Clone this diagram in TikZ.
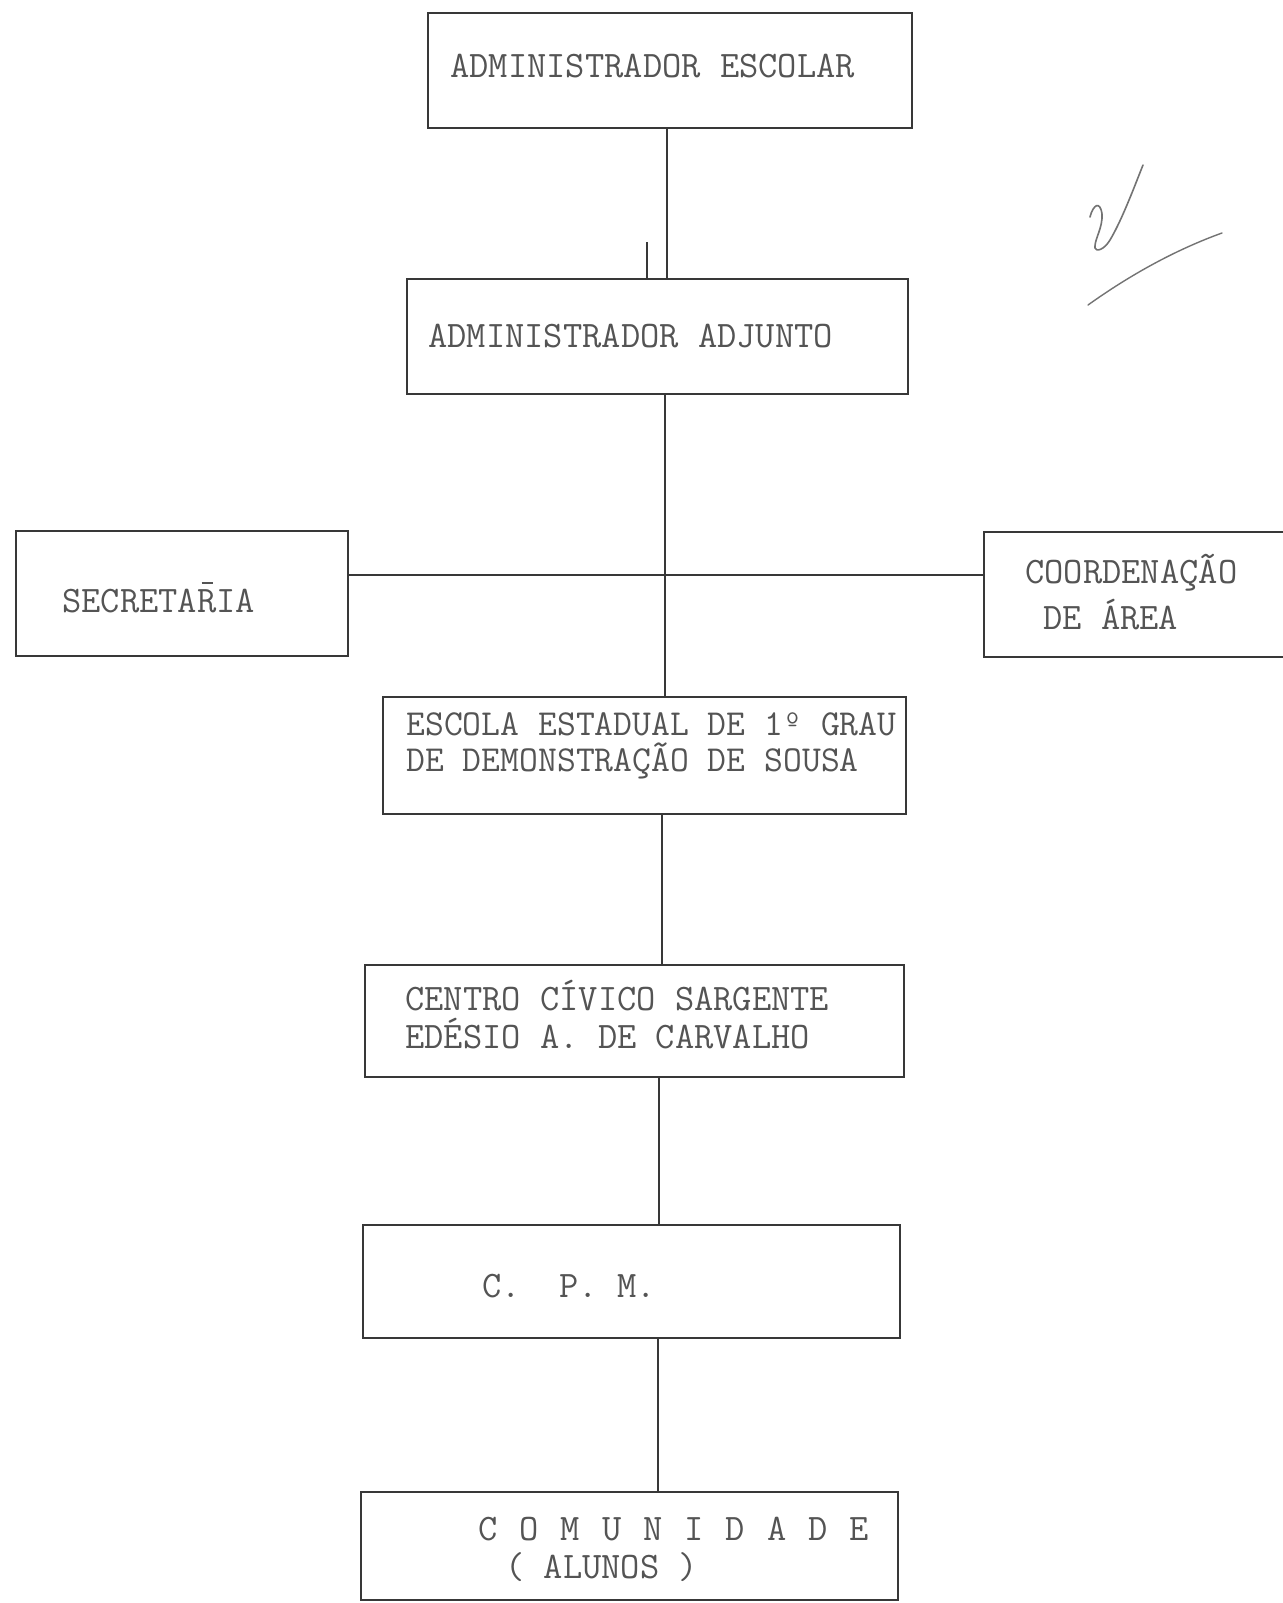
\documentclass[tikz,border=0pt]{standalone}
\usepackage{fontspec}
\usetikzlibrary{fit}
\definecolor{ink}{gray}{0.22}
\definecolor{typeink}{gray}{0.33}
\definecolor{pencil}{gray}{0.45}
\begin{document}
\begin{tikzpicture}[x=0.5pt,y=-0.5pt,
  box/.style={draw=ink, line width=1pt, inner sep=0pt},
  conn/.style={draw=ink, line width=1pt},
  lbl/.style={anchor=base west, inner sep=0pt, text=typeink,
    font=\ttfamily\fontsize{18.7}{21}\selectfont},
  lblnarrow/.style={lbl, font=\ttfamily\fontsize{18.3}{21}\selectfont}]
\useasboundingbox[fill=white] (0,0) rectangle (1282,1603);
% boxes
\node[box, fit={(428,13) (912,128)}] (b1) {};
\node[box, fit={(407,279) (908,394)}] (b2) {};
\node[box, fit={(16,531) (348,656)}] (b3) {};
\node[box, fit={(984,532) (1310,657)}] (b4) {};
\node[box, fit={(383,697) (906,814)}] (b5) {};
\node[box, fit={(365,965) (904,1077)}] (b6) {};
\node[box, fit={(363,1225) (900,1338)}] (b7) {};
\node[box, fit={(361,1492) (898,1600)}] (b8) {};
% texts
\node[lbl] (t1) at (450,77) {ADMINISTRADOR ESCOLAR};
\node[lbl] (t2) at (428,347) {ADMINISTRADOR ADJUNTO};
\node[lbl] (t3) at (62,612) {SECRETA\rlap{\raisebox{0.74em}{\kern0.12em\rule{0.3em}{0.06em}}}RIA};
\node[lbl] (t4a) at (1025,583) {COORDENAÇÃO};
\node[lbl] (t4b) at (1043,629) {DE ÁREA};
\node[lblnarrow] (t5a) at (406,735) {ESCOLA ESTADUAL DE 1º GRAU};
\node[lblnarrow] (t5b) at (406,771) {DE DEMONSTRAÇÃO DE SOUSA};
\node[lbl] (t6a) at (405,1010) {CENTRO CÍVICO SARGENTE};
\node[lbl] (t6b) at (405,1048) {EDÉSIO A. DE CARVALHO};
\node[lbl] (t7) at (482,1297) {C.~~P.~M.};
\node[lbl] (t8a) at (478,1540) {\spaceskip=11pt\relax C O M U N I D A D E};
\node[lbl] (t8b) at (505,1578) {(~ALUNOS~)};
% connectors
\coordinate (c1) at (667,0);
\coordinate (s1) at (647,242);
\coordinate (c2) at (665,0);
\coordinate (h) at (0,575);
\coordinate (c3) at (662,0);
\coordinate (c4) at (659,0);
\coordinate (c5) at (658,0);
\draw[conn] (c1 |- b1.south) -- (c1 |- b2.north);
\draw[conn] (s1) -- (s1 |- b2.north);
\draw[conn] (c2 |- b2.south) -- (c2 |- b5.north);
\draw[conn] (b3.east |- h) -- (b4.west |- h);
\draw[conn] (c3 |- b5.south) -- (c3 |- b6.north);
\draw[conn] (c4 |- b6.south) -- (c4 |- b7.north);
\draw[conn] (c5 |- b7.south) -- (c5 |- b8.north);
% handwritten pencil mark
\draw[pencil, line width=0.8pt, line cap=round, line join=round]
  (1090,217) .. controls (1093,205) and (1100,200) .. (1102,214)
  .. controls (1103,228) and (1094,240) .. (1095,248)
  .. controls (1096,252) and (1104,250) .. (1110,240)
  .. controls (1122,220) and (1135,185) .. (1143,165);
\draw[pencil, line width=0.7pt, line cap=round]
  (1088,305) .. controls (1130,275) and (1175,250) .. (1222,233);
\end{tikzpicture}
\end{document}
